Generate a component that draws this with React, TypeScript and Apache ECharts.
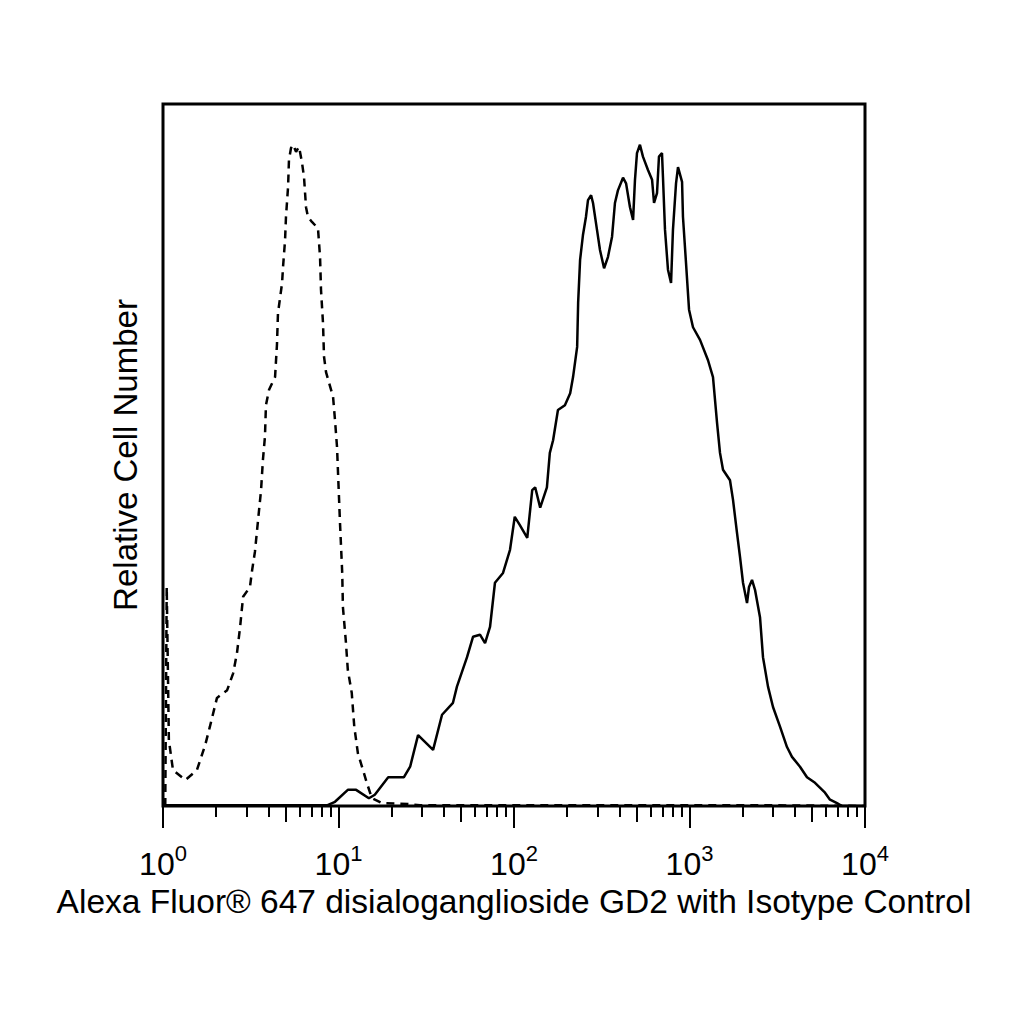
import React, { useEffect, useRef } from "react";
import * as echarts from "echarts";

// Fluorescence intensity (log scale) vs relative cell number (% of full scale)
const gd2Histogram: [number, number][] = [
  [1.0, 0.1], [8.6, 0.1], [9.55, 0.6], [11.3, 2.3], [12.6, 2.3], [14.9, 1.1], [16.1, 1.6],
  [19.2, 4.1], [23.6, 4.1], [25.6, 5.6], [28.4, 10.1], [34.6, 8.0], [38.9, 13.0], [44.9, 14.7],
  [47.3, 17.0], [54.0, 21.2], [58.4, 24.1], [64.0, 24.4], [68.4, 23.2], [73.0, 25.5], [77.9, 31.8],
  [86.6, 33.2], [94.9, 36.5], [101, 41.2], [108, 40.0], [119, 38.2], [127, 45.0], [132, 45.4],
  [141, 42.5], [154, 45.4], [160, 50.3], [167, 52.1], [178, 56.4], [195, 57.1], [209, 58.8],
  [217, 61.1], [229, 65.4], [232, 71.7], [238, 77.8], [247, 81.3], [257, 83.9], [264, 86.3],
  [275, 87.0], [282, 85.9], [297, 82.1], [309, 79.2], [326, 76.6], [343, 78.2], [362, 81.1],
  [376, 85.9], [391, 87.7], [418, 89.5], [435, 88.7], [458, 85.3], [477, 83.5], [489, 89.2],
  [502, 93.0], [522, 94.2], [543, 92.5], [580, 90.6], [612, 89.2], [628, 85.9], [653, 87.3],
  [670, 92.5], [697, 93.0], [706, 89.6], [725, 82.1], [754, 76.4], [785, 74.5], [805, 82.1],
  [838, 88.7], [860, 91.0], [907, 88.9], [918, 83.9], [955, 77.4], [994, 70.7], [1047, 68.2],
  [1148, 66.4], [1275, 63.5], [1361, 61.1], [1435, 54.6], [1492, 50.3], [1552, 47.9],
  [1701, 46.4], [1770, 43.6], [1865, 38.9], [1940, 35.5], [2018, 31.8], [2127, 28.9],
  [2183, 31.2], [2271, 32.2], [2362, 30.8], [2522, 26.9], [2623, 21.2], [2801, 17.0],
  [2991, 14.1], [3279, 11.3], [3594, 8.4], [3837, 7.0], [4262, 5.6], [4672, 4.1], [5190, 3.3],
  [5917, 1.9], [6319, 0.9], [6926, 0.4], [7396, 0], [10000, 0],
];

const isotypeHistogram: [number, number][] = [
  [1.03, 0], [1.05, 31.2], [1.08, 9.4], [1.14, 5.1], [1.34, 3.7], [1.56, 5.1], [1.74, 8.7],
  [1.85, 11.3], [2.03, 15.4], [2.32, 16.5], [2.51, 18.9], [2.64, 21.8], [2.75, 25.5],
  [2.86, 29.8], [3.13, 31.2], [3.22, 33.6], [3.34, 36.2], [3.48, 40.7], [3.62, 45.0],
  [3.71, 49.3], [3.81, 52.6], [3.86, 57.1], [4.02, 59.3], [4.35, 61.1], [4.46, 65.7],
  [4.52, 70.2], [4.77, 74.5], [4.83, 76.8], [4.96, 80.6], [5.02, 83.9], [5.16, 88.2],
  [5.22, 92.0], [5.36, 93.7], [5.51, 94.2], [5.73, 93.2], [5.96, 93.9], [6.19, 91.7],
  [6.36, 89.6], [6.53, 85.3], [6.7, 83.9], [7.06, 83.2], [7.64, 82.3], [7.85, 78.2],
  [7.95, 73.5], [8.16, 68.8], [8.27, 64.0], [8.49, 61.8], [8.83, 60.3], [9.31, 58.3],
  [9.55, 55.0], [9.81, 51.1], [9.94, 47.4], [10.2, 40.3], [10.5, 33.2], [10.6, 28.3],
  [11.0, 23.6], [11.3, 19.4], [11.9, 16.1], [12.3, 11.3], [12.9, 7.5], [13.8, 5.1],
  [14.5, 3.3], [15.5, 1.1], [17.7, 0.4], [24.9, 0.3], [29.1, 0.1], [200, 0.1], [3000, 0.1],
  [10000, 0],
];

const majorTicks = [1, 10, 100, 1000, 10000];
const majorExponents = ["0", "1", "2", "3", "4"];
const halfDecadeTicks = [5, 50, 500, 5000];
const minorTicks = [
  2, 3, 4, 6, 7, 8, 9,
  20, 30, 40, 60, 70, 80, 90,
  200, 300, 400, 600, 700, 800, 900,
  2000, 3000, 4000, 6000, 7000, 8000, 9000,
];

const xTitle = "Alexa Fluor® 647 disialoganglioside GD2 with Isotype Control";
const yTitle = "Relative Cell Number";

const FONT = "'Liberation Sans', Arial, sans-serif";

function tickAxis(values: number[], length: number) {
  return {
    type: "log",
    logBase: 10,
    min: 1,
    max: 10000,
    position: "bottom",
    offset: 0,
    axisLine: { show: false },
    axisTick: {
      show: true,
      inside: false,
      length,
      customValues: values,
      lineStyle: { color: "#000", width: 2 },
    },
    axisLabel: { show: false },
    splitLine: { show: false },
    minorTick: { show: false },
  };
}

export default function App() {
  const ref = useRef<HTMLDivElement>(null);
  useEffect(() => {
    const chart = echarts.init(ref.current!, null, { renderer: "svg" });
    chart.setOption({
      animation: false,
      backgroundColor: "#fff",
      grid: {
        left: 163,
        right: 159,
        top: 104,
        bottom: 218,
        show: true,
        borderColor: "#000",
        borderWidth: 3,
        backgroundColor: "transparent",
      },
      xAxis: [
        {
          type: "log",
          logBase: 10,
          min: 1,
          max: 10000,
          position: "bottom",
          axisLine: { show: false },
          axisTick: {
            show: true,
            length: 22,
            customValues: majorTicks,
            lineStyle: { color: "#000", width: 2 },
          },
          axisLabel: {
            show: true,
            customValues: majorTicks,
            margin: 36,
            formatter: (v: number) => {
              const i = majorTicks.findIndex((t) => Math.abs(t - v) < t * 0.01);
              return `{b|10}{s|${majorExponents[i >= 0 ? i : 0]}}`;
            },
            rich: {
              b: { fontSize: 32, lineHeight: 44, fontFamily: FONT, color: "#000" },
              s: { fontSize: 22, lineHeight: 22, verticalAlign: "top", fontFamily: FONT, color: "#000" },
            },
          },
          splitLine: { show: false },
          name: xTitle,
          nameLocation: "middle",
          nameGap: 74,
          nameTextStyle: { fontSize: 33.5, fontFamily: FONT, color: "#000" },
        },
        tickAxis(halfDecadeTicks, 16),
        tickAxis(minorTicks, 11),
      ],
      yAxis: {
        type: "value",
        min: 0,
        max: 100,
        axisLine: { show: false },
        axisTick: { show: false },
        axisLabel: { show: false },
        splitLine: { show: false },
        name: yTitle,
        nameLocation: "middle",
        nameGap: 21,
        nameTextStyle: { fontSize: 33, fontFamily: FONT, color: "#000" },
      },
      series: [
        {
          name: "Isotype Control",
          type: "line",
          xAxisIndex: 0,
          data: isotypeHistogram,
          showSymbol: false,
          symbol: "none",
          lineStyle: { color: "#000", width: 2.5, type: [8, 6] },
          z: 3,
        },
        {
          name: "GD2",
          type: "line",
          xAxisIndex: 0,
          data: gd2Histogram,
          showSymbol: false,
          symbol: "none",
          lineStyle: { color: "#000", width: 2.5 },
          z: 4,
        },
      ],
    });
    return () => chart.dispose();
  }, []);
  return (
    <div
      ref={ref}
      style={{ position: "absolute", left: 0, top: 0, width: 1024, height: 1024, background: "#fff" }}
    />
  );
}
